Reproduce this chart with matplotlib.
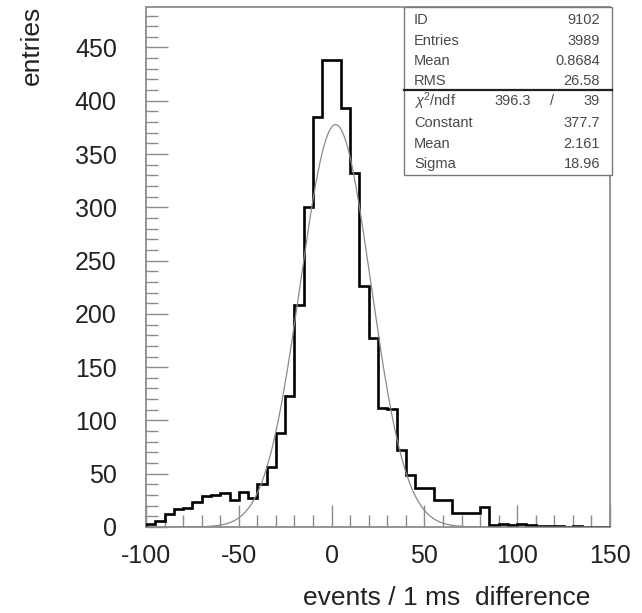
import numpy as np
import matplotlib
matplotlib.use("Agg")
import matplotlib.pyplot as plt
from matplotlib.patches import Rectangle
from matplotlib.ticker import MultipleLocator

# ---------------------------------------------------------
# Global config
# ---------------------------------------------------------
plt.rcParams["font.family"] = ["Liberation Sans", "DejaVu Sans"]
plt.rcParams["axes.unicode_minus"] = False
plt.rcParams["mathtext.fontset"] = "custom"
plt.rcParams["mathtext.rm"] = "Liberation Sans"
plt.rcParams["mathtext.it"] = "Liberation Sans:italic"
W, H = 642, 613

AXIS_GRAY = "#8c8c8c"
FIT_GRAY = "#8a8a8a"
TEXT_GRAY = "#4a4a4a"

# ---------------------------------------------------------
# Data
# ---------------------------------------------------------
BIN_LOW, BIN_HIGH, BIN_WIDTH = -100, 150, 5
COUNTS = [3, 6, 12, 17, 18, 23, 29, 30, 32, 25,
          33, 27, 40, 56, 88, 123, 208, 300, 385, 438,
          438, 393, 332, 226, 177, 112, 111, 72, 49, 37,
          37, 25, 25, 13, 13, 13, 19, 2, 3, 2,
          3, 2, 1, 1, 1, 0, 1, 0, 0, 0]

FIT_CONSTANT = 377.7
FIT_MEAN = 2.161
FIT_SIGMA = 18.96

STAT_TOP_LABELS = ["ID", "Entries", "Mean", "RMS"]
STAT_TOP_VALUES = ["9102", "3989", "0.8684", "26.58"]
STAT_FIT_LABELS = ["Constant", "Mean", "Sigma"]
STAT_FIT_VALUES = ["377.7", "2.161", "18.96"]
CHI2, NDF = "396.3", "39"

X_LABEL = "events / 1 ms  difference"
Y_LABEL = "entries"


def fx(x):
    return x / W


def fy(y):
    return 1 - y / H


# ---------------------------------------------------------
# Figure
# ---------------------------------------------------------
fig = plt.figure(figsize=(W / 100, H / 100), dpi=100)
ax = fig.add_axes([fx(146), 86 / H, 464 / W, 520 / H])

edges = np.arange(BIN_LOW, BIN_HIGH + BIN_WIDTH, BIN_WIDTH)
ax.stairs(COUNTS, edges, color="black", linewidth=1.9, zorder=3)

xf = np.linspace(BIN_LOW, BIN_HIGH, 600)
yf = FIT_CONSTANT * np.exp(-0.5 * ((xf - FIT_MEAN) / FIT_SIGMA) ** 2)
ax.plot(xf, yf, color=FIT_GRAY, linewidth=0.9, zorder=4)

ax.set_xlim(BIN_LOW, BIN_HIGH)
ax.set_ylim(0, 488)
ax.xaxis.set_major_locator(MultipleLocator(50))
ax.xaxis.set_minor_locator(MultipleLocator(10))
ax.yaxis.set_major_locator(MultipleLocator(50))
ax.yaxis.set_minor_locator(MultipleLocator(10))

for s in ax.spines.values():
    s.set_color(AXIS_GRAY)
    s.set_linewidth(1.3)

ax.tick_params(which="both", direction="in", color=AXIS_GRAY, width=1.0,
               top=False, right=False, labelsize=18, labelcolor="#222222")
ax.tick_params(which="major", length=16)
ax.tick_params(which="minor", length=8.5)
ax.tick_params(axis="y", which="major", pad=21)
ax.tick_params(axis="x", which="major", pad=12)

fig.text(fx(590), fy(605), X_LABEL, ha="right", va="baseline",
         fontsize=19, color="#222222")
fig.text(fx(32), fy(6), Y_LABEL, ha="center", va="top", rotation=90,
         fontsize=19, color="#222222")

# ---------------------------------------------------------
# Stats box
# ---------------------------------------------------------
box = Rectangle((fx(404), fy(175)), (612 - 404) / W, (175 - 7) / H,
                transform=fig.transFigure, facecolor="white",
                edgecolor="#7a7a7a", linewidth=1.0, zorder=10)
fig.add_artist(box)
fig.add_artist(plt.Line2D([fx(404), fx(612)], [fy(90), fy(90)],
                          transform=fig.transFigure, color="#222222",
                          linewidth=1.6, zorder=11))

stat_kw = dict(fontsize=10.5, color=TEXT_GRAY, va="center", zorder=12)
top_rows = [20, 41, 61, 81]
for yy, lab, val in zip(top_rows, STAT_TOP_LABELS, STAT_TOP_VALUES):
    fig.text(fx(414), fy(yy), lab, ha="left", **stat_kw)
    fig.text(fx(600), fy(yy), val, ha="right", **stat_kw)

fig.text(fx(414), fy(101), r"$\chi^2$/ndf", ha="left", **stat_kw)
fig.text(fx(531), fy(101), CHI2, ha="right", **stat_kw)
fig.text(fx(552), fy(101), "/", ha="center", **stat_kw)
fig.text(fx(600), fy(101), NDF, ha="right", **stat_kw)

fit_rows = [123, 144, 164]
for yy, lab, val in zip(fit_rows, STAT_FIT_LABELS, STAT_FIT_VALUES):
    fig.text(fx(414), fy(yy), lab, ha="left", **stat_kw)
    fig.text(fx(600), fy(yy), val, ha="right", **stat_kw)

fig.savefig("out.png", dpi=100)
